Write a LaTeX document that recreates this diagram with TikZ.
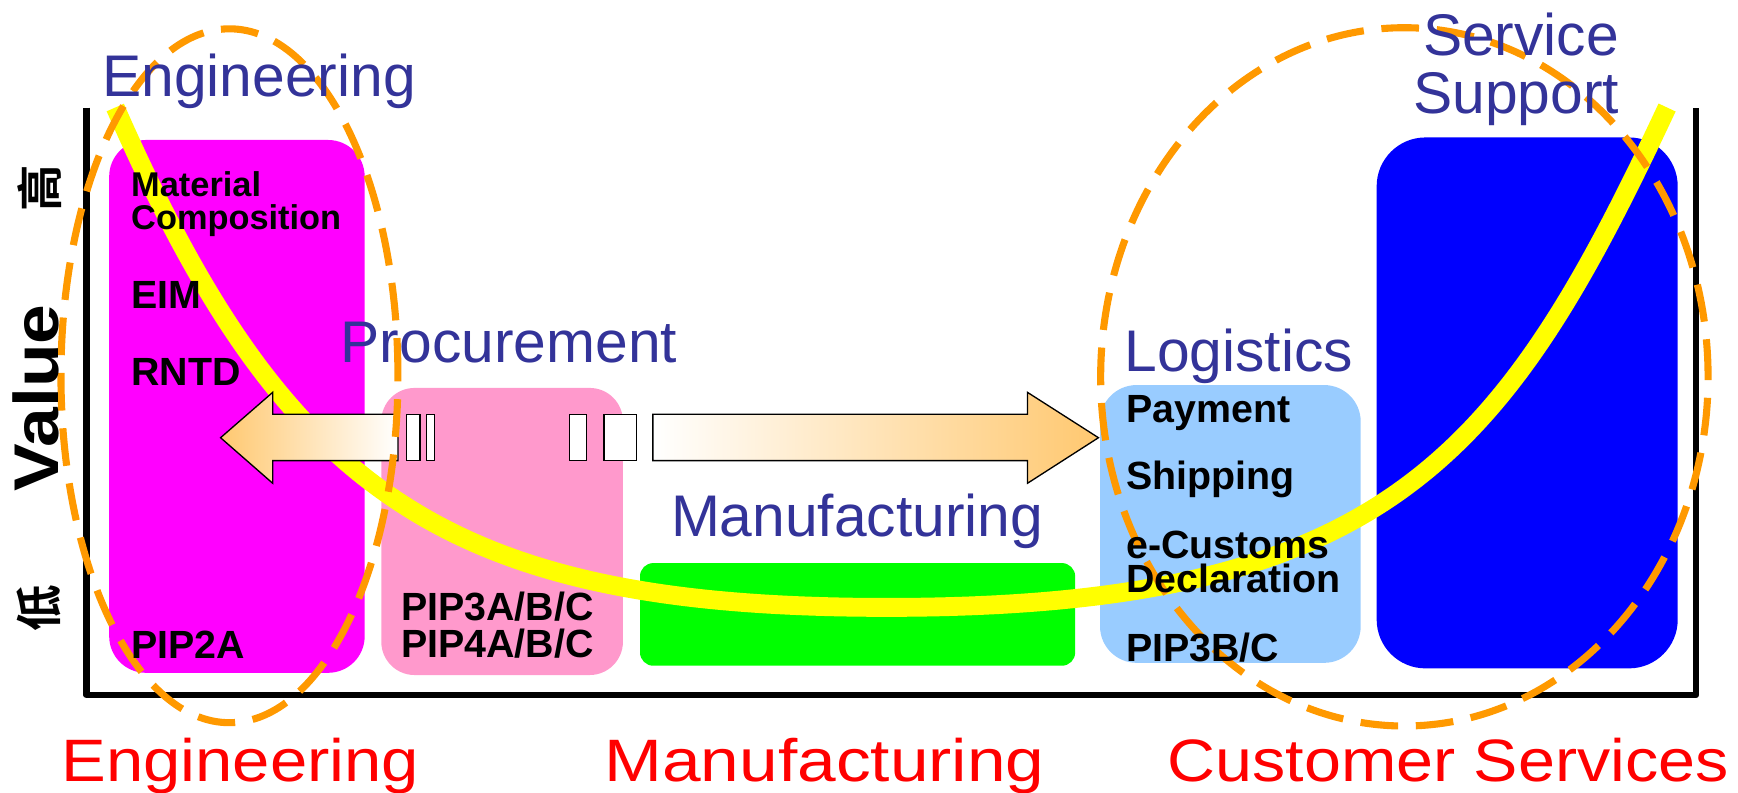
\documentclass[tikz,border=0pt]{standalone}
\usepackage{fontspec}
\setmainfont{Liberation Sans}
\newfontfamily\cjk{Noto Sans CJK SC}[BoldFont={Noto Sans CJK SC Bold}]
\definecolor{cmag}{HTML}{FF00FF}
\definecolor{cpink}{HTML}{FF99CC}
\definecolor{cgreen}{HTML}{00FF00}
\definecolor{clblue}{HTML}{99CCFF}
\definecolor{cblue}{HTML}{0000FF}
\definecolor{cyel}{HTML}{FFFF00}
\definecolor{corange}{HTML}{FF9900}
\definecolor{carrow}{HTML}{FFC870}
\definecolor{ctitle}{HTML}{333399}
\definecolor{cred}{HTML}{FF0000}
\begin{document}
\begin{tikzpicture}[x=0.5pt,y=-0.5pt,
  blk/.style={inner sep=0pt, anchor=base west, font=\bfseries\fontsize{17.75}{18}\selectfont},
  blksm/.style={inner sep=0pt, anchor=base west, font=\bfseries\fontsize{15.5}{16}\selectfont},
  ttl/.style={inner sep=0pt, anchor=base west, text=ctitle, font=\fontsize{26.5}{27}\selectfont},
  redlbl/.style={inner sep=0pt, anchor=base west, text=cred, font=\fontsize{27}{28}\selectfont},
  cjklbl/.style={rotate=90, inner sep=0pt, font=\cjk\bfseries\fontsize{21}{22}\selectfont},
  oval/.style={corange, line width=3.2pt, dash pattern=on 17pt off 8pt},
  arr/.style={draw=black, line width=0.6pt},
  gapbox/.style={draw=black, fill=white, line width=0.6pt}
]
\useasboundingbox (0,0) rectangle (1568,715);

% boxes
\fill[cmag, rounded corners=16.5pt] (98.5,126.3) rectangle (329,607);
\fill[cpink, rounded corners=15pt] (344,350) rectangle (562,609);
\fill[cgreen, rounded corners=6pt] (577.4,508) rectangle (970,600.6);
\fill[clblue, rounded corners=16.5pt] (992.4,347.4) rectangle (1227.6,598);
\fill[cblue, rounded corners=22pt] (1242,124) rectangle (1513.6,603);

% axis frame
\draw[line width=3pt, line join=round] (78,97) -- (78,627) -- (1530,627) -- (1530,97);

% value curve
\draw[cyel, line width=8.5pt] (104,97) .. controls (256,443) and (400,548) .. (800,548)
  .. controls (1250,548) and (1355.6,414) .. (1504,97);

% arrows
\path[arr, left color=carrow, right color=white]
  (199,394.9) -- (246,354) -- (246,373.8) -- (359,373.8) -- (359,415.6) -- (246,415.6) -- (246,436) -- cycle;
\draw[gapbox] (367,373.8) rectangle (379,415.6);
\draw[gapbox] (385,373.8) rectangle (392,415.6);
\draw[gapbox] (514,373.8) rectangle (529,415.6);
\draw[gapbox] (545,373.8) rectangle (574,415.6);
\path[arr, left color=white, right color=carrow]
  (589,373.8) -- (927,373.8) -- (927,354) -- (991,394.9) -- (927,436) -- (927,415.6) -- (589,415.6) -- cycle;

% dashed ovals
\draw[oval] (207,339) ellipse [x radius=76pt, y radius=156.5pt];
\draw[oval] (1267,340) ellipse [x radius=137pt, y radius=157.5pt];

% black labels
\node[blksm] (mat) at (118,177.5) {Material};
\node[blksm] (comp) at (118,207.5) {Composition};
\node[blk] (eim) at (118,278) {EIM};
\node[blk] (rntd) at (118,347.5) {RNTD};
\node[blk] (pip2a) at (118,594) {PIP2A};
\node[blk] (pip3a) at (361.5,560) {PIP3A/B/C};
\node[blk] (pip4a) at (361.5,593) {PIP4A/B/C};
\node[blk] (pay) at (1015.6,381) {Payment};
\node[blk] (ship) at (1015.6,442) {Shipping};
\node[blk] (ecus) at (1015.6,503.6) {e-Customs};
\node[blk] (decl) at (1015.6,534.7) {Declaration};
\node[blk] (pip3bc) at (1015.6,597) {PIP3B/C};

% titles
\node[ttl] (tEng) at (92,87) {Engineering};
\node[ttl] (tProc) at (307,327) {Procurement};
\node[ttl] (tMan) at (605,484) {Manufacturing};
\node[ttl] (tLog) at (1014,335) {Logistics};
\node[ttl, anchor=base east] (tServ) at (1461,50.5) {Service};
\node[ttl, anchor=base east] (tSupp) at (1461,102) {Support};

% bottom labels
\node[redlbl] (bEng) at (55,705) {\scalebox{1.12}[1]{Engineering}};
\node[redlbl] (bMan) at (545,705) {\scalebox{1.16}[1]{Manufacturing}};
\node[redlbl] (bCus) at (1053,705) {\scalebox{1.11}[1]{Customer Services}};

% axis label
\node[rotate=90, inner sep=0pt, font=\bfseries\fontsize{28.5}{30}\selectfont] (val) at (32.5,359) {\scalebox{1.13}[1]{Value}};
\node[cjklbl] (gao) at (35.5,169.5) {高};
\node[cjklbl] (di) at (35,549) {低};
\end{tikzpicture}
\end{document}
